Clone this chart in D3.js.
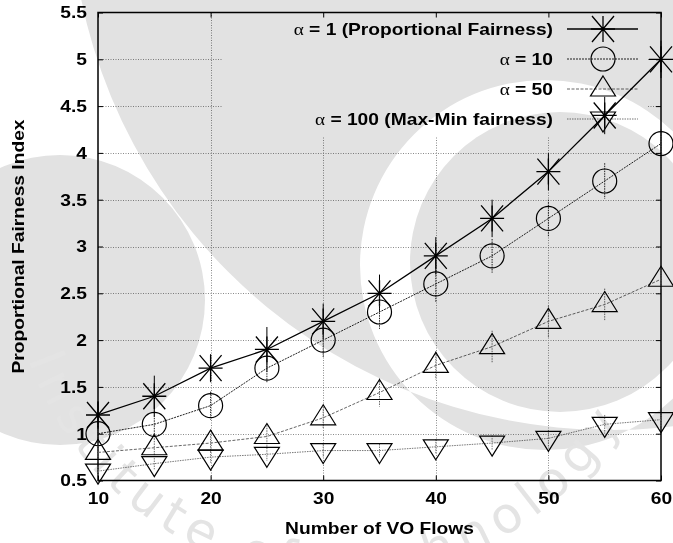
<!DOCTYPE html>
<html>
<head>
<meta charset="utf-8">
<script src="https://cdn.jsdelivr.net/npm/d3@7"></script>
<style>
  html, body { margin: 0; padding: 0; background: #fff; }
  svg { display: block; }
  text.lbl, .tick text { font-family: "Liberation Sans", Arial, Helvetica, sans-serif; font-weight: bold; font-size: 17px; fill: #000; }
</style>
</head>
<body>
<svg id="chart" width="673" height="543"></svg>
<script>
// Number of VO flows on the x axis
const flows = [10, 15, 20, 25, 30, 35, 40, 45, 50, 55, 60];

// Proportional fairness index per alpha setting
const alpha1   = [1.2, 1.4, 1.7, 1.9, 2.2, 2.5, 2.9, 3.3, 3.8, 4.4, 5.0];
const alpha10  = [1.0, 1.1, 1.3, 1.7, 2.0, 2.3, 2.6, 2.9, 3.3, 3.7, 4.1];
const alpha50  = [0.8, 0.85, 0.9, 0.97, 1.17, 1.44, 1.73, 1.93, 2.2, 2.38, 2.65];
const alpha100 = [0.6, 0.68, 0.75, 0.78, 0.82, 0.82, 0.86, 0.9, 0.95, 1.1, 1.15];

// Half-width of the error bars
const err1   = [0.15, 0.22, 0.15, 0.24, 0.19, 0.2, 0.2, 0.2, 0.2, 0.2, 0.2];
const err10  = [0.1, 0.15, 0.15, 0.16, 0.18, 0.18, 0.2, 0.18, 0.2, 0.19, 0.15];
const err50  = [0.1, 0.1, 0.1, 0.12, 0.12, 0.15, 0.15, 0.17, 0.17, 0.17, 0.1];
const err100 = [0.05, 0.06, 0.06, 0.07, 0.07, 0.07, 0.08, 0.08, 0.09, 0.1, 0.08];

const seriesNames = ["α = 1 (Proportional Fairness)", "α = 10", "α = 50", "α = 100 (Max-Min fairness)"];

const xTicks = [10, 20, 30, 40, 50, 60];
const yTicks = [0.5, 1, 1.5, 2, 2.5, 3, 3.5, 4, 4.5, 5, 5.5];
const yTickLabels = ["0.5", "1", "1.5", "2", "2.5", "3", "3.5", "4", "4.5", "5", "5.5"];

const xTitle = "Number of VO Flows";
const yTitle = "Proportional Fairness Index";
const sealText = "Institute of Technology";

const W = 673, H = 543;
const plot = { left: 98, right: 661, top: 12.5, bottom: 480.5 };
const stretch = 1.13;

const svg = d3.select("#chart");
svg.append("rect").attr("width", W).attr("height", H).attr("fill", "#fff");

const x = d3.scaleLinear().domain([10, 60]).range([plot.left, plot.right]);
const y = d3.scaleLinear().domain([0.5, 5.5]).range([plot.bottom, plot.top]);

const keyBox = { x0: 222, x1: 648, y0: plot.top, y1: 137 };

// grid kept out of the key box
const defs = svg.append("defs");
defs.append("clipPath").attr("id", "gridClip")
  .append("path")
  .attr("clip-rule", "evenodd")
  .attr("d", `M${plot.left},${plot.top}H${plot.right}V${plot.bottom}H${plot.left}Z` +
             `M${keyBox.x0},${keyBox.y0}H${keyBox.x1}V${keyBox.y1}H${keyBox.x0}Z`);

const grid = svg.append("g").attr("clip-path", "url(#gridClip)")
  .attr("stroke", "#8a8a8a").attr("stroke-width", 1).attr("stroke-dasharray", "1,1.5").attr("fill", "none");
grid.selectAll("line.gx").data(xTicks.slice(1, -1)).join("line")
  .attr("x1", d => Math.round(x(d)) + 0.5).attr("x2", d => Math.round(x(d)) + 0.5)
  .attr("y1", plot.top).attr("y2", plot.bottom);
grid.selectAll("line.gy").data(yTicks.slice(1, -1)).join("line")
  .attr("y1", d => Math.round(y(d)) + 0.5).attr("y2", d => Math.round(y(d)) + 0.5)
  .attr("x1", plot.left).attr("x2", plot.right);

// axes: inward ticks on all four sides
const ax = svg.append("g");
ax.append("g").attr("transform", `translate(0,${plot.bottom})`)
  .call(d3.axisBottom(x).tickValues(xTicks).tickFormat(d3.format("d")).tickSize(-5).tickPadding(11.5));
ax.append("g").attr("transform", `translate(${plot.left},0)`)
  .call(d3.axisLeft(y).tickValues(yTicks).tickFormat((d, i) => yTickLabels[i]).tickSize(-5).tickPadding(11));
ax.append("g").attr("transform", `translate(0,${plot.top})`)
  .call(d3.axisTop(x).tickValues(xTicks).tickFormat("").tickSize(-5));
ax.append("g").attr("transform", `translate(${plot.right},0)`)
  .call(d3.axisRight(y).tickValues(yTicks).tickFormat("").tickSize(-5));
ax.selectAll(".domain").remove();
ax.selectAll(".tick line").attr("stroke", "#000").attr("stroke-width", 1);
ax.selectAll(".tick text").attr("font-family", null).attr("font-size", null).attr("fill", "#000");

// border
svg.append("rect")
  .attr("x", plot.left).attr("y", plot.top)
  .attr("width", plot.right - plot.left).attr("height", plot.bottom - plot.top)
  .attr("fill", "none").attr("stroke", "#000").attr("stroke-width", 1.5);

// axis titles
svg.append("text").attr("class", "lbl").attr("x", (plot.left + plot.right) / 2).attr("y", 534)
  .attr("text-anchor", "middle").text(xTitle);
svg.append("text").attr("class", "lbl")
  .attr("transform", `translate(24,${(plot.top + plot.bottom) / 2}) rotate(-90)`)
  .attr("text-anchor", "middle").text(yTitle);

// marker shapes
function marker(g, kind) {
  if (kind === "star") {
    g.append("path").attr("d", "M-12,0H12M0,-13V13M-11,-13L11,13M-11,13L11,-13")
      .attr("stroke", "#000").attr("stroke-width", 1.3).attr("fill", "none");
  } else if (kind === "circle") {
    g.append("circle").attr("r", 12).attr("fill", "none").attr("stroke", "#000").attr("stroke-width", 1.2);
  } else if (kind === "up") {
    g.append("path").attr("d", "M0,-13L12.5,7H-12.5Z").attr("fill", "none").attr("stroke", "#000").attr("stroke-width", 1.2);
  } else {
    g.append("path").attr("d", "M0,13L12.5,-7H-12.5Z").attr("fill", "none").attr("stroke", "#000").attr("stroke-width", 1.2);
  }
}

const series = [
  { name: seriesNames[0], values: alpha1,   errs: err1,   kind: "star",   color: "#000", width: 1.3, dash: null },
  { name: seriesNames[1], values: alpha10,  errs: err10,  kind: "circle", color: "#222", width: 1.0, dash: "2,1" },
  { name: seriesNames[2], values: alpha50,  errs: err50,  kind: "up",     color: "#666", width: 1.0, dash: "3,1.5" },
  { name: seriesNames[3], values: alpha100, errs: err100, kind: "down",   color: "#777", width: 1.0, dash: "1.5,1" }
];

// key
const key = svg.append("g");
const keyRowY = [29, 59, 89, 119];
series.forEach((s, i) => {
  const ry = keyRowY[i];
  const t = key.append("text").attr("class", "lbl").attr("x", 553).attr("y", ry + 6).attr("text-anchor", "end");
  t.append("tspan").style("font-family", "'Liberation Serif', 'DejaVu Serif', serif").style("font-weight", "normal").text("α");
  t.append("tspan").text(s.name.slice(1));
  key.append("line").attr("x1", 567).attr("x2", 638).attr("y1", ry).attr("y2", ry)
    .attr("stroke", s.color).attr("stroke-width", s.width).attr("stroke-dasharray", s.dash);
  marker(key.append("g").attr("transform", `translate(603,${ry})`), s.kind);
});

// series: error bars, connecting lines, markers
const line = d3.line().x((d, i) => x(flows[i])).y(d => y(d));
series.forEach(s => {
  const g = svg.append("g");
  g.selectAll("line.err").data(s.values).join("line")
    .attr("x1", (d, i) => x(flows[i])).attr("x2", (d, i) => x(flows[i]))
    .attr("y1", (d, i) => y(d + s.errs[i])).attr("y2", (d, i) => y(d - s.errs[i]))
    .attr("stroke", s.kind === "star" ? "#000" : s.color).attr("stroke-width", 1)
    .attr("stroke-dasharray", s.kind === "star" ? null : "1.5,1");
  g.append("path").datum(s.values).attr("d", line)
    .attr("fill", "none").attr("stroke", s.color).attr("stroke-width", s.width).attr("stroke-dasharray", s.dash);
  s.values.forEach((v, i) => {
    marker(g.append("g").attr("transform", `translate(${x(flows[i])},${y(v)})`), s.kind);
  });
});

// widen the bold labels slightly
svg.selectAll("text.lbl, .tick text").each(function () {
  const len = this.getComputedTextLength();
  if (len > 0) d3.select(this).attr("textLength", len * stretch).attr("lengthAdjust", "spacingAndGlyphs");
});

// faint background seal, multiplied over the chart
const circlePath = (cx, cy, r) => `M${cx - r},${cy}a${r},${r} 0 1,0 ${2 * r},0a${r},${r} 0 1,0 ${-2 * r},0Z`;
const seal = svg.append("g").style("mix-blend-mode", "multiply").attr("fill", "#e2e2e2");
seal.append("path").attr("fill-rule", "evenodd")
  .attr("d", circlePath(610, -110, 540) + circlePath(545, 265, 185));
seal.append("path").attr("d", circlePath(560, 262, 150));
seal.append("path").attr("d", circlePath(60, 300, 145));
defs.append("path").attr("id", "sealArc")
  .attr("d", `M${340 - 330},250 A330,330 0 0,0 ${340 + 330},250`);
seal.append("text")
  .style("font-family", "'DejaVu Sans', sans-serif").style("font-weight", "normal").style("font-size", "50px")
  .style("fill", "#e4e4e4").style("letter-spacing", "8px")
  .append("textPath").attr("href", "#sealArc").attr("startOffset", "47%").attr("text-anchor", "middle")
  .text(sealText);
</script>
</body>
</html>
